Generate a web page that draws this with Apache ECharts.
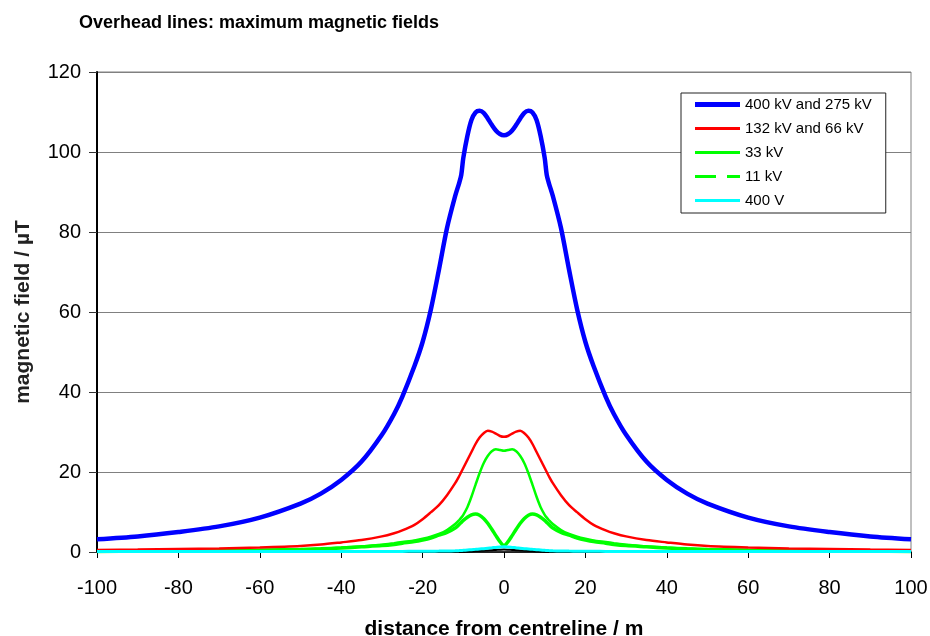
<!DOCTYPE html>
<html>
<head>
<meta charset="utf-8">
<script src="https://cdn.jsdelivr.net/npm/echarts@6/dist/echarts.min.js"></script>
<style>
html,body{margin:0;padding:0;background:#fff;}
#chart{width:930px;height:636px;}
</style>
</head>
<body>
<div id="chart"></div>
<script>
var titleText = 'Overhead lines: maximum magnetic fields';
var xAxisTitle = 'distance from centreline / m';
var yAxisTitle = 'magnetic field / µT';
var seriesNames = ['400 kV and 275 kV', '132 kV and 66 kV', '33 kV', '11 kV', '400 V'];

var distance = [-100,-90,-80,-70,-60,-50,-45,-40,-35,-30,-27,-25,-22,-20,-18,-16,-14,-12,-11,-10.5,-10,-9,-8,-7,-6,-5,-4,-3,-2,-1,0,
  1,2,3,4,5,6,7,8,9,10,10.5,11,12,14,16,18,20,22,25,27,30,35,40,45,50,60,70,80,90,100];

var kv400 = [3.2,3.9,5.0,6.4,8.6,12.1,14.6,18.0,22.6,29.3,34.5,38.8,46.5,52.5,60.5,70.5,81.0,89.0,92.3,94.3,98.5,104.0,108.0,109.9,110.3,109.8,108.4,106.8,105.4,104.5,104.2,
  104.5,105.4,106.8,108.4,109.8,110.3,109.9,108.0,104.0,98.5,94.3,92.3,89.0,81.0,70.5,60.5,52.5,46.5,38.8,34.5,29.3,22.6,18.0,14.6,12.1,8.6,6.4,5.0,3.9,3.2];

var kv132 = [0.5,0.6,0.75,0.9,1.15,1.5,1.85,2.4,3.0,3.9,4.7,5.4,6.8,8.2,9.9,11.7,14.2,17.2,19.0,20.0,21.0,23.0,25.0,27.0,28.6,29.7,30.3,30.1,29.6,29.0,28.8,
  29.0,29.6,30.1,30.3,29.7,28.6,27.0,25.0,23.0,21.0,20.0,19.0,17.2,14.2,11.7,9.9,8.2,6.8,5.4,4.7,3.9,3.0,2.4,1.85,1.5,1.15,0.9,0.75,0.6,0.5];

var kv33 = [0.2,0.25,0.3,0.4,0.5,0.7,0.85,1.1,1.4,1.8,2.2,2.5,2.9,3.3,3.8,4.5,5.5,7.0,8.0,8.6,9.3,11.2,13.8,16.8,19.7,22.2,24.0,25.2,25.7,25.5,25.3,
  25.5,25.7,25.2,24.0,22.2,19.7,16.8,13.8,11.2,9.3,8.6,8.0,7.0,5.5,4.5,3.8,3.3,2.9,2.5,2.2,1.8,1.4,1.1,0.85,0.7,0.5,0.4,0.3,0.25,0.2];

var kv11 = [0.15,0.2,0.25,0.3,0.45,0.65,0.8,1.0,1.3,1.6,1.9,2.2,2.6,3.0,3.5,4.2,4.9,6.0,6.9,7.4,7.9,8.7,9.3,9.5,9.2,8.4,7.2,5.7,4.1,2.6,1.6,
  2.6,4.1,5.7,7.2,8.4,9.2,9.5,9.3,8.7,7.9,7.4,6.9,6.0,4.9,4.2,3.5,3.0,2.6,2.2,1.9,1.6,1.3,1.0,0.8,0.65,0.45,0.3,0.25,0.2,0.15];

var v400 = [0.1,0.1,0.1,0.1,0.1,0.1,0.1,0.12,0.12,0.13,0.14,0.15,0.17,0.18,0.2,0.22,0.25,0.3,0.35,0.38,0.42,0.5,0.58,0.66,0.75,0.84,0.95,1.05,1.15,1.25,1.3,
  1.25,1.15,1.05,0.95,0.84,0.75,0.66,0.58,0.5,0.42,0.38,0.35,0.3,0.25,0.22,0.2,0.18,0.17,0.15,0.14,0.13,0.12,0.12,0.1,0.1,0.1,0.1,0.1,0.1,0.1];

var underlay = [0,0,0,0,0,0,0,0,0,0,0,0,0,0,0,0,0,0,0,0,0,0.08,0.15,0.22,0.28,0.34,0.4,0.46,0.52,0.58,0.62,
  0.58,0.52,0.46,0.4,0.34,0.28,0.22,0.15,0.08,0,0,0,0,0,0,0,0,0,0,0,0,0,0,0,0,0,0,0,0,0];

var xTicks = [-100,-80,-60,-40,-20,0,20,40,60,80,100];
var yTicks = [0,20,40,60,80,100,120];

function pairs(ys){ return distance.map(function(x,i){ return [x, ys[i]]; }); }

var FONT = '"Liberation Sans", Arial, Helvetica, sans-serif';
var chart = echarts.init(document.getElementById('chart'), null, {renderer:'canvas'});

function lineSeries(name, data, color, width, z){
  return {
    name: name, type: 'line', data: pairs(data), showSymbol: false, symbol: 'none',
    smooth: 0.3, z: z,
    lineStyle: {color: color, width: width, type: 'solid'},
    itemStyle: {color: color},
    emphasis: {disabled: true}
  };
}

var iconSolidThick = 'path://M0,0 L45,0 L45,5 L0,5 Z';
var iconSolid = 'path://M0,0 L45,0 L45,3 L0,3 Z';
var iconDashed = 'path://M0,0 L21,0 L21,3 L0,3 Z M32,0 L45,0 L45,3 L32,3 Z';

chart.setOption({
  animation: false,
  backgroundColor: '#ffffff',
  title: {
    text: titleText, left: 79, top: 14, padding: 0,
    textStyle: {fontFamily: FONT, fontSize: 18, fontWeight: 'bold', color: '#000'}
  },
  grid: {
    left: 97, right: 19, top: 72, bottom: 84,
    outerBoundsMode: 'none', containLabel: false,
    show: true, borderColor: '#808080', borderWidth: 1, backgroundColor: 'transparent'
  },
  legend: {
    show: true,
    orient: 'vertical', left: 681, top: 93,
    padding: [4, 14, 5, 14],
    itemWidth: 45, itemHeight: 14, itemGap: 9,
    backgroundColor: '#ffffff', borderColor: '#222', borderWidth: 1,
    textStyle: {fontFamily: FONT, fontSize: 15, color: '#000'},
    data: [
      {name: seriesNames[0], icon: iconSolidThick},
      {name: seriesNames[1], icon: iconSolid},
      {name: seriesNames[2], icon: iconSolid},
      {name: seriesNames[3], icon: iconDashed},
      {name: seriesNames[4], icon: iconSolid}
    ]
  },
  xAxis: {
    type: 'value', min: -100, max: 100, interval: 20,
    name: xAxisTitle, nameLocation: 'middle', nameGap: 67,
    nameTextStyle: {fontFamily: FONT, fontSize: 21, fontWeight: 'bold', color: '#000'},
    axisLine: {show: true, onZero: false, lineStyle: {color: '#000', width: 1.5}},
    axisTick: {show: true, inside: false, length: 6, lineStyle: {color: '#000', width: 1}},
    axisLabel: {fontFamily: FONT, fontSize: 20, color: '#000', margin: 26,
      formatter: function(v){ return xTicks.indexOf(v) >= 0 ? String(v) : ''; }},
    splitLine: {show: false}
  },
  yAxis: {
    type: 'value', min: 0, max: 120, interval: 20,
    name: yAxisTitle, nameLocation: 'middle', nameGap: 63, nameRotate: 90,
    nameTextStyle: {fontFamily: FONT, fontSize: 21, fontWeight: 'bold', color: '#222'},
    axisLine: {show: true, onZero: false, lineStyle: {color: '#000', width: 2}},
    axisTick: {show: true, inside: false, length: 8, lineStyle: {color: '#333', width: 1}},
    axisLabel: {fontFamily: FONT, fontSize: 20, color: '#000', margin: 16,
      formatter: function(v){ return yTicks.indexOf(v) >= 0 ? String(v) : ''; }},
    splitLine: {show: true, lineStyle: {color: '#808080', width: 1}}
  },
  series: [
    lineSeries(seriesNames[3], kv11, '#00FF00', 3.5, 2),
    lineSeries(seriesNames[2], kv33, '#00FF00', 2.5, 3),
    lineSeries(seriesNames[1], kv132, '#FF0000', 2.5, 4),
    lineSeries('underlay', underlay, '#000000', 2, 5),
    lineSeries(seriesNames[4], v400, '#00FFFF', 3, 6),
    lineSeries(seriesNames[0], kv400, '#0000FF', 4.5, 7)
  ]
});
</script>
</body>
</html>
